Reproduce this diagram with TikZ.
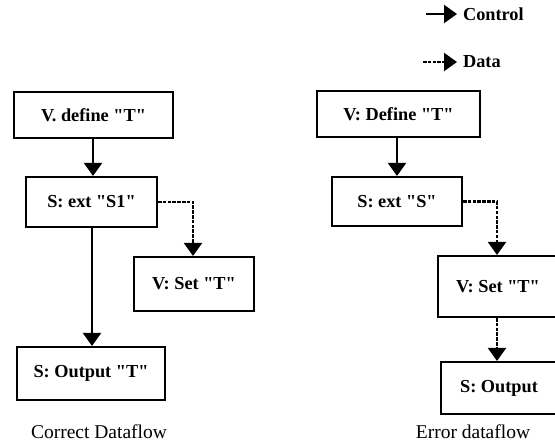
\documentclass[tikz,border=0pt]{standalone}
\usepackage{fontspec}
\setmainfont{Liberation Serif}
\usepackage{tikz}
\usetikzlibrary{arrows.meta}
\usetikzlibrary{positioning}

\newcommand{\q}{\textquotedbl}

\begin{document}
\begin{tikzpicture}[x=1pt, y=-1pt, >={Triangle[width=18pt,length=13pt]},
  box/.style={draw, line width=2.1pt, inner sep=0pt, font=\fontsize{18.3}{22}\selectfont\bfseries},
  ctrl/.style={->, line width=2.1pt},
  data/.style={->, line width=2.1pt, dash pattern=on 3.5pt off 1.3pt},
  lbl/.style={font=\fontsize{19.5}{22}\selectfont}]
  \clip (0,0) rectangle (555,445);

  % correct dataflow
  \node[box, minimum width=159pt, minimum height=46pt] (ldef) at (93.5,115) {V. define \q T\q};
  \node[box, minimum width=131pt, minimum height=50pt] (lext) at (91.5,202) {S: ext \q S1\q};
  \node[box, minimum width=120pt, minimum height=54pt] (lset) at (194,284) {V: Set \q T\q};
  \node[box, minimum width=148pt, minimum height=53pt] (lout) at (91,373.5) {S: Output \q T\q};
  \node[lbl] (lcap) at (99,432) {Correct Dataflow};

  \draw[ctrl] (ldef.south -| 93,0) -- (lext.north -| 93,0);
  \draw[ctrl] (lext.south -| 92,0) -- (lout.north -| 92,0);
  \draw[data] (lext.east) -| (lset.north -| 193,0);

  % error dataflow
  \node[box, minimum width=163pt, minimum height=46pt] (rdef) at (398.5,114) {V: Define \q T\q};
  \node[box, minimum width=130pt, minimum height=49pt] (rext) at (397,201.5) {S: ext \q S\q};
  \node[box, minimum width=120pt, minimum height=61pt] (rset) at (498,286.5) {V: Set \q T\q};
  \node[box, minimum width=116pt, minimum height=52pt] (rout) at (499,388) {S: Output};
  \node[lbl] (rcap) at (473,432) {Error dataflow};

  \draw[ctrl] (rdef.south -| 397,0) -- (rext.north -| 397,0);
  \draw[data] (rext.east) -| (rset.north -| 497,0);
  \draw[data] (rset.south -| 497,0) -- (rout.north -| 497,0);

  % legend
  \node[box, draw=none, anchor=west, inner xsep=5pt] (lgctl) at (457,14) {Control};
  \node[box, draw=none, anchor=west, inner xsep=5pt] (lgdat) at (457,62) {Data};
  \coordinate (lgc) at (426,14);
  \coordinate (lgd) at (423,62);
  \draw[ctrl] (lgc) -- (lgctl.west);
  \draw[data] (lgd) -- (lgdat.west);
\end{tikzpicture}
\end{document}
